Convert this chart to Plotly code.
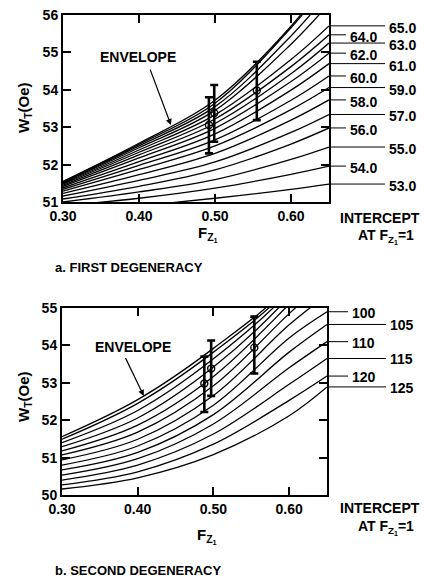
import plotly.graph_objects as go

W_PX, H_PX = 424, 579

# Abscissa sample points (F_Z1) at which the curves were read
F_PTS = [0.30, 0.40, 0.50, 0.60, 0.65]

# ---- a. First degeneracy : W_T (Oe) at F_PTS, labelled by intercept at F_Z1 = 1
A_53 = [50.75, 50.90, 51.10, 51.34, 51.48]
A_54 = [50.90, 51.10, 51.37, 51.74, 51.96]
A_55 = [51.00, 51.27, 51.60, 52.14, 52.47]
A_56 = [51.08, 51.42, 51.86, 52.55, 52.98]
A_57 = [51.16, 51.58, 52.07, 52.86, 53.34]
A_58 = [51.23, 51.73, 52.30, 53.19, 53.73]
A_59 = [51.29, 51.87, 52.50, 53.47, 54.06]
A_60 = [51.34, 51.98, 52.66, 53.72, 54.37]
A_61 = [51.38, 52.08, 52.82, 53.99, 54.70]
A_62 = [51.42, 52.18, 52.97, 54.22, 54.98]
A_63 = [51.45, 52.26, 53.10, 54.43, 55.25]
A_64 = [51.48, 52.33, 53.22, 54.62, 55.47]
A_65 = [51.50, 52.39, 53.33, 54.81, 55.71]
A_X1 = [51.52, 52.45, 53.45, 55.22, 56.30]
A_X2 = [51.53, 52.50, 53.55, 55.44, 56.60]
A_X3 = [51.54, 52.54, 53.64, 55.66, 56.90]
A_ENV = [51.55, 52.57, 53.72, 55.70, 57.00]
A_LABELS = ["65.0", "64.0", "63.0", "62.0", "61.0", "60.0", "59.0",
            "58.0", "57.0", "56.0", "55.0", "54.0", "53.0"]

# ---- b. Second degeneracy
B_125 = [50.16, 50.46, 51.08, 52.12, 52.89]
B_120 = [50.27, 50.62, 51.36, 52.53, 53.18]
B_115 = [50.40, 50.80, 51.63, 52.96, 53.65]
B_110 = [50.53, 50.97, 51.90, 53.40, 54.10]
B_105 = [50.67, 51.14, 52.15, 53.82, 54.56]
B_100 = [50.80, 51.31, 52.40, 54.20, 54.90]
B_X1 = [50.94, 51.49, 52.66, 54.55, 55.35]
B_X2 = [51.07, 51.68, 52.92, 54.85, 55.75]
B_X3 = [51.18, 51.87, 53.17, 55.10, 56.15]
B_X4 = [51.29, 52.06, 53.42, 55.30, 56.55]
B_X5 = [51.40, 52.26, 53.64, 55.45, 56.95]
B_X6 = [51.49, 52.45, 53.82, 55.55, 57.20]
B_ENV = [51.56, 52.55, 53.92, 55.62, 57.30]
B_LABELS = ["100", "105", "110", "115", "120", "125"]

# ---- measured points with error bars
A_PT_F = [0.492, 0.499, 0.555]
A_PT_W = [53.06, 53.38, 53.98]
A_PT_UP = [0.74, 0.75, 0.77]
A_PT_DN = [0.76, 0.77, 0.79]
B_PT_F = [0.488, 0.497, 0.554]
B_PT_W = [52.98, 53.38, 53.94]
B_PT_UP = [0.72, 0.75, 0.83]
B_PT_DN = [0.76, 0.73, 0.69]

X_TICKS = [0.30, 0.40, 0.50, 0.60]
X_TICKTEXT = ["0.30", "0.40", "0.50", "0.60"]
A_Y_TICKS = [51, 52, 53, 54, 55, 56]
B_Y_TICKS = [50, 51, 52, 53, 54, 55]

A_CURVES = [A_53, A_54, A_55, A_56, A_57, A_58, A_59, A_60, A_61, A_62,
            A_63, A_64, A_65, A_X1, A_X2, A_X3, A_ENV]
A_LABELLED = [A_65, A_64, A_63, A_62, A_61, A_60, A_59, A_58, A_57, A_56,
              A_55, A_54, A_53]
B_CURVES = [B_125, B_120, B_115, B_110, B_105, B_100, B_X1, B_X2, B_X3,
            B_X4, B_X5, B_X6, B_ENV]
B_LABELLED = [B_100, B_105, B_110, B_115, B_120, B_125]

FONT = "Liberation Sans"


def pxx(p):
    return p / W_PX


def pxy(p):
    return 1 - p / H_PX


fig = go.Figure()


def add_curves(curves, xa, ya):
    for c in curves:
        fig.add_trace(go.Scatter(
            x=F_PTS, y=c, mode="lines", xaxis=xa, yaxis=ya,
            line=dict(color="black", width=1.3, shape="spline", smoothing=1.0),
            showlegend=False, hoverinfo="skip"))


def add_points(f, w, up, dn, xa, ya):
    fig.add_trace(go.Scatter(
        x=f, y=w, mode="markers", xaxis=xa, yaxis=ya,
        marker=dict(symbol="circle-open-dot", size=7, color="black",
                    line=dict(width=1.4, color="black")),
        error_y=dict(type="data", array=up, arrayminus=dn, symmetric=False,
                     color="black", thickness=2.6, width=4),
        showlegend=False, hoverinfo="skip"))


add_curves(A_CURVES, "x", "y")
add_curves(B_CURVES, "x2", "y2")
add_points(A_PT_F, A_PT_W, A_PT_UP, A_PT_DN, "x", "y")
add_points(B_PT_F, B_PT_W, B_PT_UP, B_PT_DN, "x2", "y2")

axis_common = dict(
    showgrid=False, zeroline=False, showline=True, linecolor="black",
    linewidth=2, mirror="allticks", ticks="inside", ticklen=8, tickwidth=2,
    tickcolor="black", automargin=False,
    tickfont=dict(family=FONT, size=14, color="black", weight="bold"))

fig.update_layout(
    template="none",
    width=W_PX, height=H_PX, margin=dict(l=0, r=0, t=0, b=0, pad=0),
    paper_bgcolor="white", plot_bgcolor="white", showlegend=False,
    xaxis=dict(domain=[pxx(63), pxx(329)], range=[0.30, 0.65],
               tickvals=X_TICKS, ticktext=X_TICKTEXT, anchor="y",
               **axis_common),
    yaxis=dict(domain=[pxy(202), pxy(15)], range=[51, 56],
               tickvals=A_Y_TICKS, anchor="x", **axis_common),
    xaxis2=dict(domain=[pxx(62), pxx(327)], range=[0.30, 0.65],
                tickvals=X_TICKS, ticktext=X_TICKTEXT, anchor="y2",
                **axis_common),
    yaxis2=dict(domain=[pxy(495), pxy(308)], range=[50, 55],
                tickvals=B_Y_TICKS, anchor="x2", **axis_common),
)

shapes = []
annots = []
tfont = dict(family=FONT, size=14, color="black", weight="bold")


def note(**kw):
    base = dict(showarrow=False, xanchor="center", yanchor="middle",
                font=tfont)
    base.update(kw)
    annots.append(base)


# leader lines + intercept labels, first degeneracy
for i, (curve, lab) in enumerate(zip(A_LABELLED, A_LABELS)):
    yv = curve[-1]
    if i % 2 == 0:
        x1, xt = 385, 387
    else:
        x1, xt = 346, 348
    shapes.append(dict(type="line", xref="paper", yref="y", x0=pxx(331),
                       x1=pxx(x1), y0=yv, y1=yv,
                       line=dict(color="black", width=1)))
    note(xref="paper", yref="y", x=pxx(xt), y=yv, text=lab,
         xanchor="left", yshift=-2)

# leader lines + labels, second degeneracy
for i, (curve, lab) in enumerate(zip(B_LABELLED, B_LABELS)):
    yv = curve[-1]
    if i % 2 == 0:
        x1, xt = 348, 350
    else:
        x1, xt = 386, 388
    shapes.append(dict(type="line", xref="paper", yref="y2", x0=pxx(329),
                       x1=pxx(x1), y0=yv, y1=yv,
                       line=dict(color="black", width=1)))
    note(xref="paper", yref="y2", x=pxx(xt), y=yv, text=lab,
         xanchor="left", yshift=-1)

# envelope labels and arrows
note(xref="x", yref="y", x=0.399, y=54.88, text="ENVELOPE")
annots.append(dict(xref="x", yref="y", x=0.442, y=53.06, ax=0.414, ay=54.58,
                   axref="x", ayref="y", text="", showarrow=True,
                   arrowhead=2, arrowsize=1, arrowwidth=1.2,
                   arrowcolor="black"))
note(xref="x2", yref="y2", x=0.394, y=53.96, text="ENVELOPE")
annots.append(dict(xref="x2", yref="y2", x=0.408, y=52.65, ax=0.383, ay=53.7,
                   axref="x2", ayref="y2", text="", showarrow=True,
                   arrowhead=2, arrowsize=1, arrowwidth=1.2,
                   arrowcolor="black"))

big = dict(family=FONT, size=15, color="black", weight="bold")
# axis titles and captions
for ty in (108, 397):
    note(xref="paper", yref="paper", x=pxx(24), y=pxy(ty),
         text="W<sub>T</sub>(Oe)", textangle=-90, font=big)
for tx, ty in ((208, 234), (207, 536)):
    note(xref="paper", yref="paper", x=pxx(tx), y=pxy(ty),
         text="F<sub>Z<sub>1</sub></sub>", font=big)
for ty in (218, 508):
    note(xref="paper", yref="paper", x=pxx(380), y=pxy(ty), text="INTERCEPT")
for ty in (236, 527):
    note(xref="paper", yref="paper", x=pxx(386), y=pxy(ty),
         text="AT F<sub>Z<sub>1</sub></sub>=1")
cap = dict(family=FONT, size=13, color="black", weight="bold")
note(xref="paper", yref="paper", x=pxx(53), y=pxy(267),
     text="a. FIRST DEGENERACY", xanchor="left", font=cap)
note(xref="paper", yref="paper", x=pxx(53), y=pxy(570),
     text="b. SECOND DEGENERACY", xanchor="left", font=cap)

fig.update_layout(shapes=shapes, annotations=annots)
fig.write_html(
    "out.html",
    config={"displayModeBar": False, "staticPlot": True},
    post_script="document.body.style.margin='0';"
                "document.body.style.overflow='hidden';")
